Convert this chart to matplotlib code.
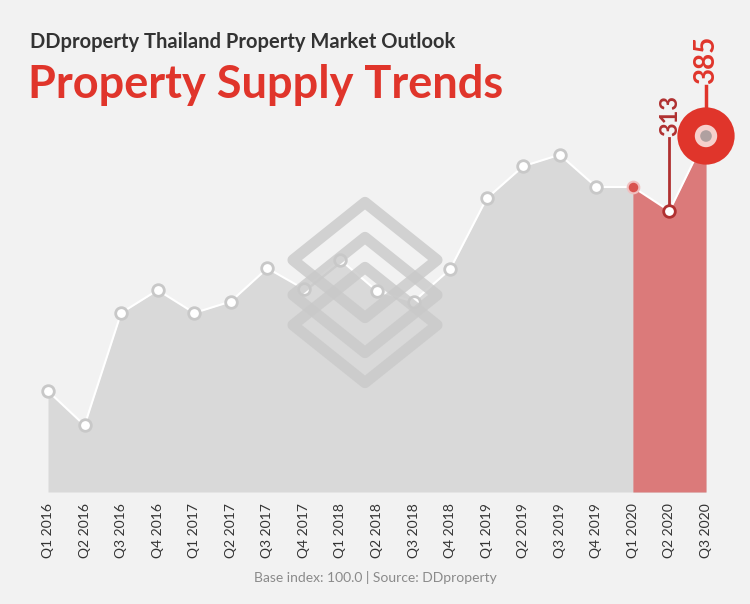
import matplotlib

matplotlib.use("Agg")
import matplotlib.pyplot as plt
from matplotlib.patches import Polygon

quarters = ["Q1 2016", "Q2 2016", "Q3 2016", "Q4 2016", "Q1 2017", "Q2 2017", "Q3 2017",
            "Q4 2017", "Q1 2018", "Q2 2018", "Q3 2018", "Q4 2018", "Q1 2019", "Q2 2019",
            "Q3 2019", "Q4 2019", "Q1 2020", "Q2 2020", "Q3 2020"]
supply = [140, 107, 215, 237, 215, 226, 258, 238, 266, 236, 226, 257, 325, 356, 367,
          336, 336, 313, 385]
highlight_from = 16
BASE = 43

BG = "#f2f2f2"
RED = "#e0352b"
W, H = 750, 604

fig = plt.figure(figsize=(7.5, 6.04), dpi=100, facecolor=BG)
ax = fig.add_axes([48 / W, (H - 492) / H, (706 - 48) / W, (492 - 136) / H])
ax.set_facecolor(BG)
x = list(range(len(supply)))

ax.fill_between(x, supply, BASE, color="#d9d9d9", lw=0, zorder=1)
hx = x[highlight_from:]
ax.fill_between(hx, supply[highlight_from:], BASE, color="#db7a7a", lw=0, zorder=2)

# watermark: three stacked diamonds (pixel coords from top-left)
for cy in (260, 295, 325):
    cx, r = 365, 72
    pts = [(cx, cy - r * 0.8), (cx + r, cy), (cx, cy + r * 0.8), (cx - r, cy)]
    pts = [(px / W, 1 - py / H) for px, py in pts]
    fig.patches.append(Polygon(pts, closed=True, transform=fig.transFigure, fc="none",
                               ec="#c9c9c9", lw=8, joinstyle="round", alpha=0.8, zorder=3))

ax.plot(x, supply, color="white", lw=1.5, zorder=4)
ax.scatter(x[:highlight_from], supply[:highlight_from], s=70, facecolor="white",
           edgecolor="#c8c8c8", lw=2, zorder=5, clip_on=False)
ax.scatter([x[16]], [supply[16]], s=70, facecolor="#d9534f", edgecolor="#f0c0c0", lw=1.5, zorder=5)
ax.scatter([x[17]], [supply[17]], s=70, facecolor="white", edgecolor="#b03030", lw=2, zorder=5)
ax.scatter([x[18]], [supply[18]], s=1700, facecolor=RED, edgecolor="none", zorder=5, clip_on=False)
ax.scatter([x[18]], [supply[18]], s=260, facecolor="#f6d0cc", edgecolor="none", zorder=6, clip_on=False)
ax.scatter([x[18]], [supply[18]], s=70, facecolor="#b0a0a0", edgecolor="none", zorder=7, clip_on=False)

ax.plot([x[17], x[17]], [supply[17] + 3, supply[17] + 70], color="#b03030", lw=2, clip_on=False)
ax.text(x[17], supply[17] + 72, str(supply[17]), rotation=90, ha="center", va="bottom",
        color="#b03030", fontsize=17, fontweight="bold", family="Lato")
ax.plot([x[18], x[18]], [supply[18] + 20, supply[18] + 48], color=RED, lw=2.5, clip_on=False)
ax.text(x[18], supply[18] + 50, str(supply[18]), rotation=90, ha="center", va="bottom",
        color=RED, fontsize=20, fontweight="bold", family="Lato")

ax.set_xlim(0, len(supply) - 1)
ax.set_ylim(BASE, 385)
ax.set_yticks([])
ax.set_xticks(x, quarters, rotation=90, fontsize=10, color="#333333", family="Lato")
ax.tick_params(axis="x", length=0, pad=8)
for s in ax.spines.values():
    s.set_visible(False)

fig.text(30 / W, 1 - 42 / H, "DDproperty Thailand Property Market Outlook", fontsize=14.5,
         fontweight="bold", color="#333333", family="Lato", va="center")
fig.text(28 / W, 1 - 85 / H, "Property Supply Trends", fontsize=32.5, fontweight="bold",
         color=RED, family="Lato", va="center")
fig.text(0.5, 1 - 578 / H, "Base index: 100.0 | Source: DDproperty", fontsize=10,
         color="#8a8a8a", ha="center", va="center", family="Lato")

fig.savefig("out.png", dpi=100, facecolor=BG)
